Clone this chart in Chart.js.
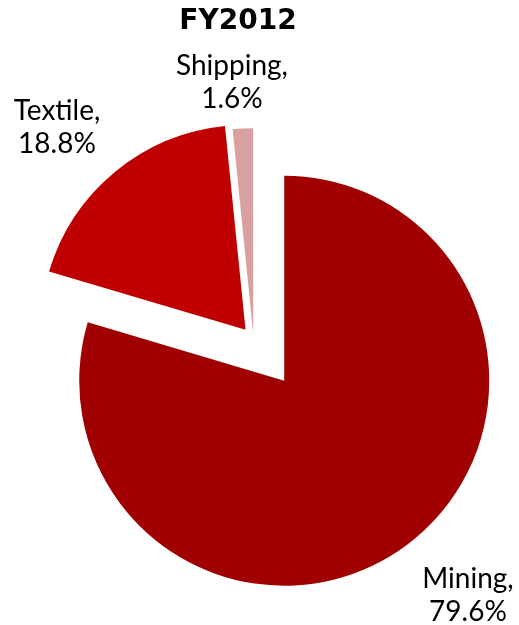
<!DOCTYPE html>
<html>
<head>
<meta charset="utf-8">
<script src="https://cdn.jsdelivr.net/npm/chart.js@4/dist/chart.umd.min.js"></script>
<style>
  html, body { margin: 0; padding: 0; background: #fff; }
  #wrap { width: 519px; height: 625px; position: relative; }
</style>
</head>
<body>
<div id="wrap"><canvas id="c"></canvas></div>
<script>
const chartTitle = 'FY2012';
const categories = ['Mining', 'Textile', 'Shipping'];
const shares = [79.6, 18.8, 1.6];
const sliceColors = ['#A00000', '#C00000', '#D8A0A0'];
// explosion distance (px) for each slice, along its mid-angle
const explode = [51.4, 12.5, 6.3];
// label anchor (centre x, first baseline y) for each slice
const labelAnchors = [[468, 588], [57, 120], [232, 75]];

class ExplodedPie extends Chart.PieController {
  draw() {
    const ctx = this.chart.ctx;
    const meta = this._cachedMeta;
    meta.data.forEach((arc, i) => {
      if (arc.hidden) return;
      const mid = (arc.startAngle + arc.endAngle) / 2;
      const d = explode[i] || 0;
      ctx.save();
      ctx.translate(Math.cos(mid) * d, Math.sin(mid) * d);
      arc.draw(ctx, this.chart.chartArea);
      ctx.restore();
    });
  }
}
ExplodedPie.id = 'explodedPie';
ExplodedPie.defaults = Chart.PieController.defaults;
ExplodedPie.overrides = Chart.PieController.overrides;
Chart.register(ExplodedPie);

const textPlugin = {
  id: 'texts',
  afterDatasetsDraw(chart) {
    const ctx = chart.ctx;
    ctx.save();
    ctx.fillStyle = '#000';
    ctx.textAlign = 'center';
    ctx.textBaseline = 'alphabetic';
    ctx.font = 'bold 28px "DejaVu Sans", Lato, sans-serif';
    ctx.fillText(chartTitle, 238, 29);
    ctx.font = '28px Lato, "Open Sans", sans-serif';
    categories.forEach((cat, i) => {
      const [x, y] = labelAnchors[i];
      ctx.fillText(cat + ',', x, y);
      ctx.fillText(shares[i].toFixed(1) + '%', x, y + 33);
    });
    ctx.restore();
  }
};

new Chart(document.getElementById('c'), {
  type: 'explodedPie',
  data: {
    labels: categories,
    datasets: [{
      data: shares,
      backgroundColor: sliceColors,
      borderWidth: 0
    }]
  },
  options: {
    responsive: true,
    maintainAspectRatio: false,
    animation: false,
    radius: 205,
    layout: { padding: { left: 0, right: 12, top: 54, bottom: 0 } },
    plugins: {
      legend: { display: false },
      title: { display: false },
      tooltip: { enabled: false }
    }
  },
  plugins: [textPlugin]
});
</script>
</body>
</html>
